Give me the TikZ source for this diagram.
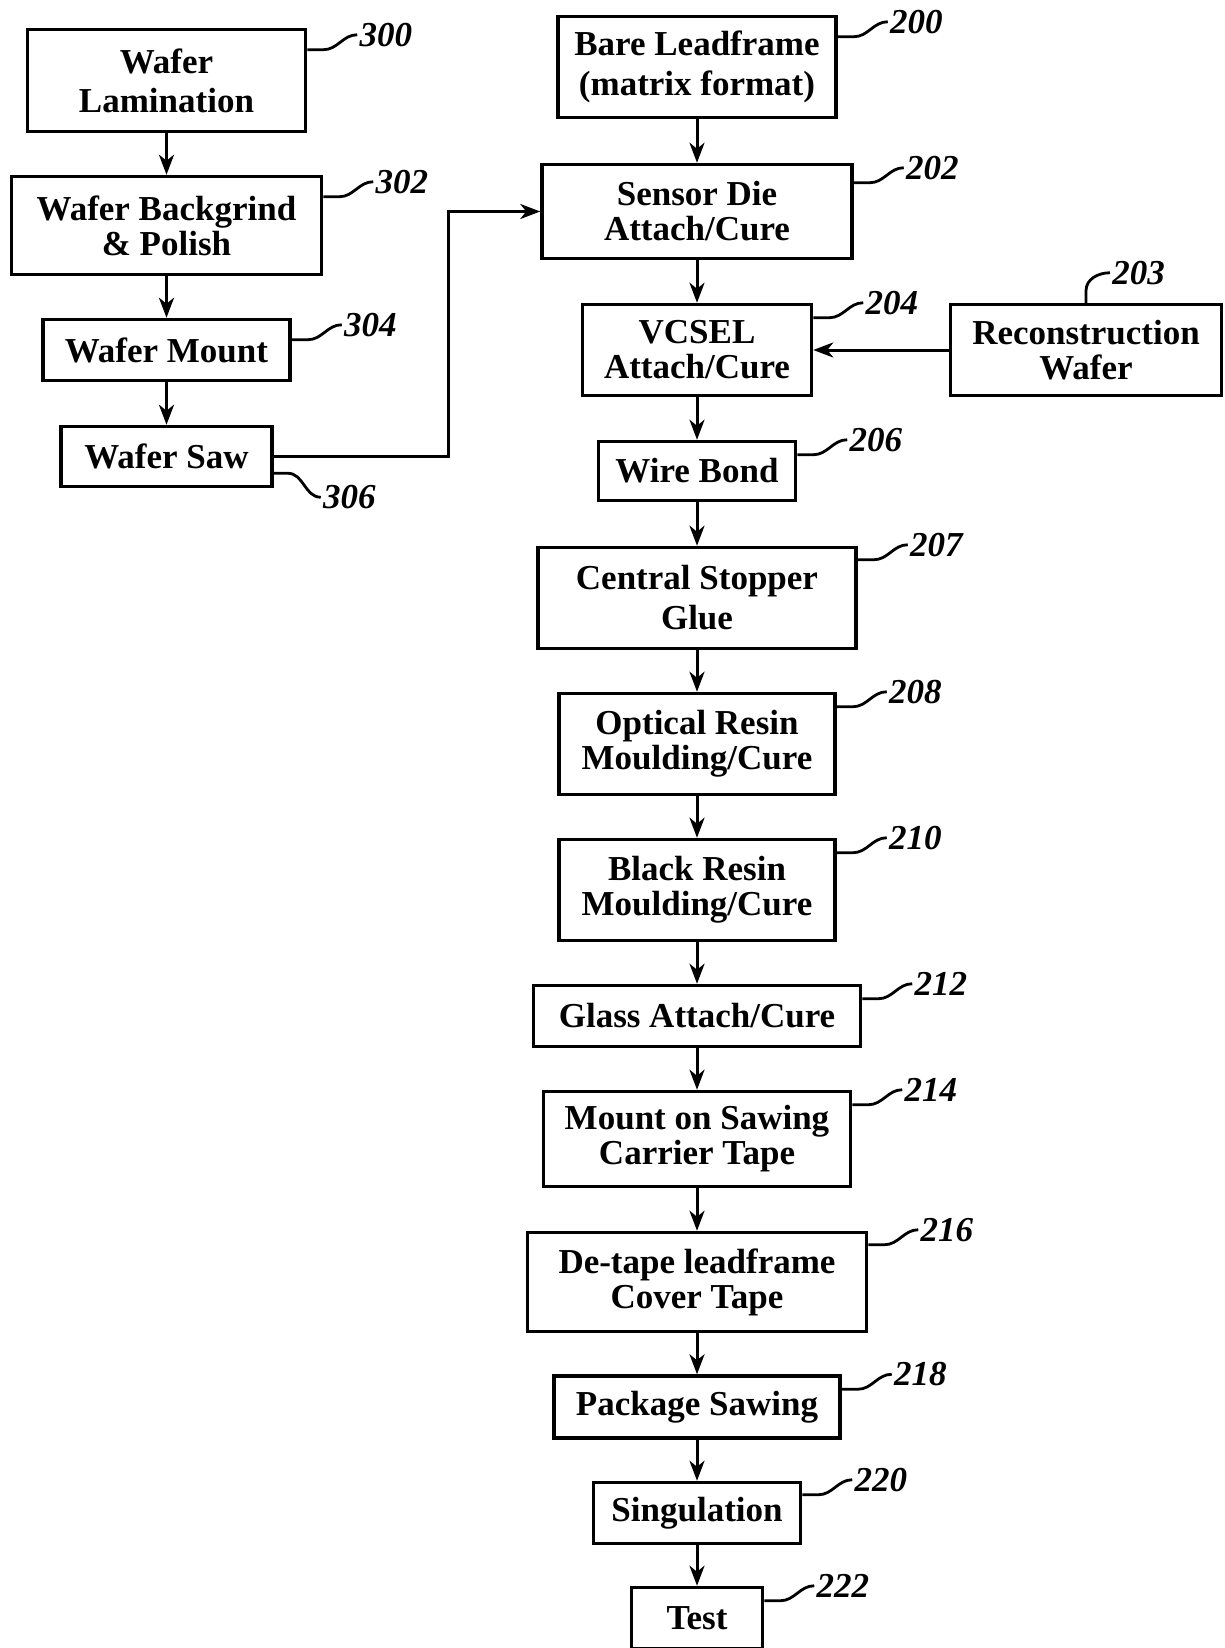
\documentclass[tikz,border=0pt]{standalone}
\usepackage{fontspec}
\setmainfont{Liberation Serif}
\usetikzlibrary{arrows.meta}
\begin{document}
\begin{tikzpicture}[x=1pt,y=-1pt,
box/.style={draw,line width=3.5pt,align=center,font=\fontsize{35}{35}\selectfont\bfseries},
flow/.style={line width=3pt,-{Stealth[length=20pt,width=15pt,inset=6pt]}},
lead/.style={line width=2.8pt},
num/.style={right,inner sep=1pt,font=\fontsize{35}{35}\selectfont\bfseries\itshape}]
\useasboundingbox(0,0)rectangle(1225,1648);
\newcommand{\Lead}[3]{
\draw[lead]([yshift=-#2pt]#1.north east)--++(16,0)to[out=0,in=180]++(34,-15)node[num]{#3};}
% wafer side
\node[box,minimum width=278,minimum height=102](lam)at(166.5,80.5){Wafer\\[4pt]Lamination};
\node[box,minimum width=310,minimum height=98](grind)at(166.5,225.5){Wafer Backgrind\\\& Polish};
\node[box,minimum width=247,minimum height=61](mount)at(166.5,350){Wafer Mount};
\node[box,minimum width=211,minimum height=60](saw)at(166.5,456.5){Wafer Saw};
% leadframe side
\node[box,minimum width=278,minimum height=101](frame)at(697,67){Bare Leadframe\\[5pt](matrix format)};
\node[box,minimum width=310,minimum height=94](diebond)at(697,211.5){Sensor Die\\Attach/Cure};
\node[box,minimum width=229,minimum height=91](vcsel)at(697,350){VCSEL\\Attach/Cure};
\node[box,minimum width=271,minimum height=91](recon)at(1086,350){Reconstruction\\Wafer};
\node[box,minimum width=197,minimum height=59](wire)at(697,471){Wire Bond};
\node[box,minimum width=318,minimum height=101](stopper)at(697,598){Central Stopper\\[5pt]Glue};
\node[box,minimum width=276,minimum height=101](optical)at(697,744){Optical Resin\\Moulding/Cure};
\node[box,minimum width=276,minimum height=101](black)at(697,890){Black Resin\\Moulding/Cure};
\node[box,minimum width=327,minimum height=61](glass)at(697,1016){Glass Attach/Cure};
\node[box,minimum width=307,minimum height=95](tape)at(697,1139){Mount on Sawing\\Carrier Tape};
\node[box,minimum width=339,minimum height=99](detape)at(697,1282){De-tape leadframe\\Cover Tape};
\node[box,minimum width=286,minimum height=62](pkgsaw)at(697,1407){Package Sawing};
\node[box,minimum width=207,minimum height=61](singul)at(697,1513){Singulation};
\node[box,minimum width=131,minimum height=61](test)at(697,1618){Test};
% arrows
\draw[flow](lam)--(grind);
\draw[flow](grind)--(mount);
\draw[flow](mount)--(saw);
\draw[flow](saw.east)--++(175,0)|-(diebond.west);
\draw[flow](frame)--(diebond);
\draw[flow](diebond)--(vcsel);
\draw[flow](recon)--(vcsel);
\draw[flow](vcsel)--(wire);
\draw[flow](wire)--(stopper);
\draw[flow](stopper)--(optical);
\draw[flow](optical)--(black);
\draw[flow](black)--(glass);
\draw[flow](glass)--(tape);
\draw[flow](tape)--(detape);
\draw[flow](detape)--(pkgsaw);
\draw[flow](pkgsaw)--(singul);
\draw[flow](singul)--(test);
% reference numbers
\Lead{lam}{22}{300}
\Lead{grind}{22}{302}
\Lead{mount}{22}{304}
\draw[lead]([yshift=15pt]saw.south east)--++(14,0)to[out=0,in=180]++(33,24)node[num]{306};
\Lead{frame}{22}{200}
\Lead{diebond}{20}{202}
\Lead{vcsel}{15}{204}
\draw[lead](recon.north)--++(0,-12)to[out=90,in=180]++(24,-18)node[num]{203};
\Lead{wire}{15}{206}
\Lead{stopper}{14}{207}
\Lead{optical}{15}{208}
\Lead{black}{15}{210}
\Lead{glass}{15}{212}
\Lead{tape}{15}{214}
\Lead{detape}{14}{216}
\Lead{pkgsaw}{15}{218}
\Lead{singul}{14}{220}
\Lead{test}{15}{222}
\end{tikzpicture}
\end{document}
